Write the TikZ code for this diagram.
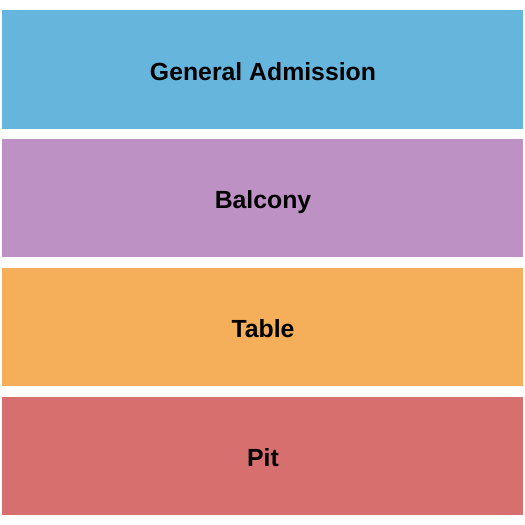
\documentclass[tikz,border=0pt]{standalone}
\usepackage{fontspec}
\setmainfont{Liberation Sans}
\definecolor{gacol}{HTML}{66B5DC}
\definecolor{balcol}{HTML}{BD91C3}
\definecolor{tabcol}{HTML}{F5AE59}
\definecolor{pitcol}{HTML}{D76F6E}
\begin{document}
\begin{tikzpicture}[x=1pt,y=-1pt,
  band/.style={draw=none},
  lbl/.style={anchor=base,inner sep=0pt,font=\fontsize{24.8}{28}\selectfont\bfseries,text=black}]
\useasboundingbox (0,0) rectangle (525,525);
\fill[band,gacol]  (2,10)  rectangle (523,128.5);
\fill[band,balcol] (2,139) rectangle (523,257);
\fill[band,tabcol] (2,268) rectangle (523,386);
\fill[band,pitcol] (2,397) rectangle (523,515);
\node[lbl] (ga)  at (263,80)  {General Admission};
\node[lbl] (bal) at (263,208) {Balcony};
\node[lbl] (tab) at (263,337) {Table};
\node[lbl] (pit) at (263,466) {Pit};
\end{tikzpicture}
\end{document}
